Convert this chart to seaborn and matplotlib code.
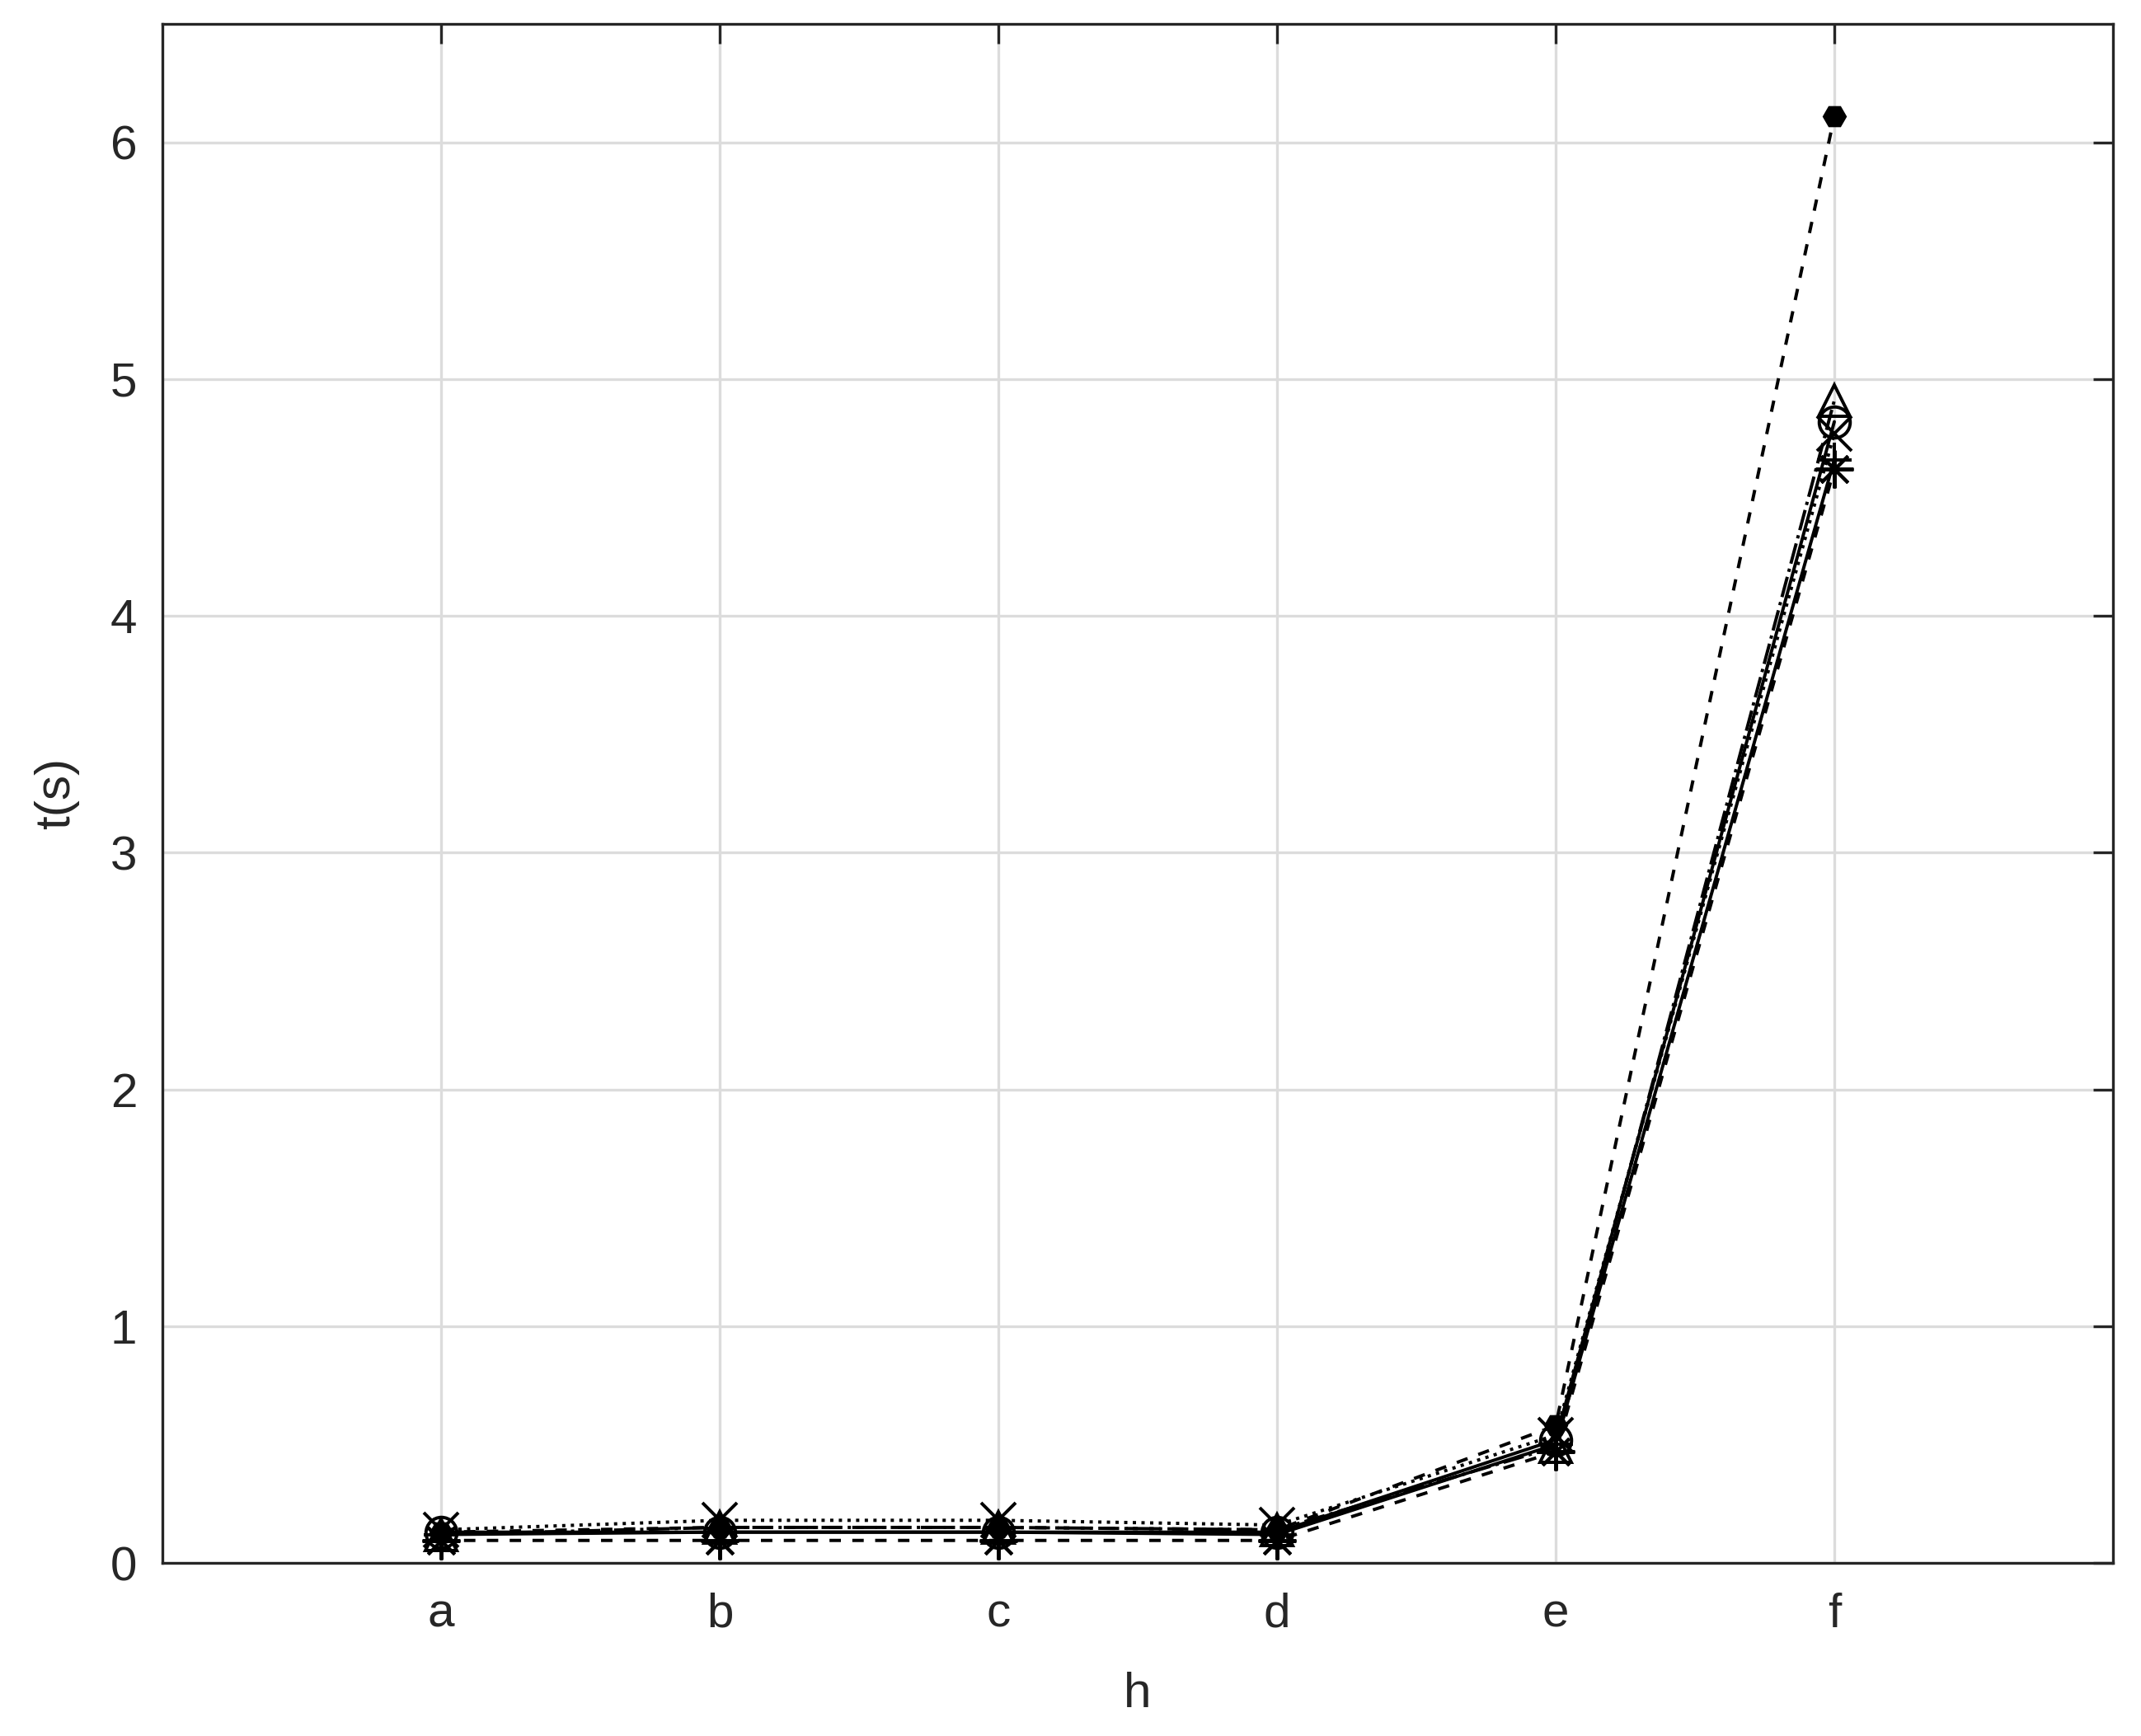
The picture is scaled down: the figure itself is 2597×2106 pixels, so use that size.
import pandas as pd
import seaborn as sns
import matplotlib.pyplot as plt

# values
categories = ['a', 'b', 'c', 'd', 'e', 'f']
s_circle = [0.13, 0.13, 0.13, 0.13, 0.52, 4.82]
s_cross = [0.14, 0.18, 0.18, 0.16, 0.54, 4.77]
s_triangle = [0.12, 0.15, 0.15, 0.14, 0.49, 4.91]
s_asterisk = [0.095, 0.095, 0.095, 0.095, 0.47, 4.62]
s_plus = [0.12, 0.13, 0.13, 0.12, 0.50, 4.66]
s_hexagon = [0.13, 0.15, 0.15, 0.14, 0.58, 6.11]

sns.set_theme(style="white")
plt.rcParams['font.family'] = ['Liberation Sans', 'DejaVu Sans']

fig = plt.figure(figsize=(2597 / 300, 2106 / 300), dpi=300)
ax = fig.add_axes([0.0759, 0.0997, 0.9110, 0.8865])

lw = 0.95
# (series, marker, linestyle, markersize, filled)
series = [
    (s_circle, 'o', '-', 9, False),
    (s_cross, 'x', ':', 10, False),
    (s_triangle, '^', '-.', 9, False),
    (s_asterisk, (8, 2, 0), (0, (3.5, 3.5)), 11, False),
    (s_plus, '+', '-', 10, False),
    (s_hexagon, 'H', (0, (3.5, 3.5)), 6, True),
]

for vals, mk, ls, ms, filled in series:
    df = pd.DataFrame({'h': categories, 't': vals})
    sns.lineplot(data=df, x='h', y='t', ax=ax, color='black', lw=lw,
                 linestyle=ls, marker=mk, markersize=ms,
                 mec='black', mew=lw,
                 mfc='black' if filled else 'none')

ax.set_xlim(-1, 6)
ax.set_ylim(0, 6.5)
ax.set_yticks(range(7))
ax.grid(True, color='#dcdcdc', lw=0.8)
ax.set_axisbelow(True)

for sp in ax.spines.values():
    sp.set_color('#262626')
    sp.set_linewidth(0.8)

ax.tick_params(axis='both', direction='in', length=5.8, width=0.8,
               color='#262626', labelsize=14, labelcolor='#262626',
               top=True, right=True)
ax.tick_params(axis='x', pad=8.6)
ax.tick_params(axis='y', pad=7.4)

ax.set_xlabel('h', fontsize=14.5, color='#262626', labelpad=10)
ax.set_ylabel('t(s)', fontsize=14.5, color='#262626', labelpad=9)

fig.savefig('out.png', dpi=300)
